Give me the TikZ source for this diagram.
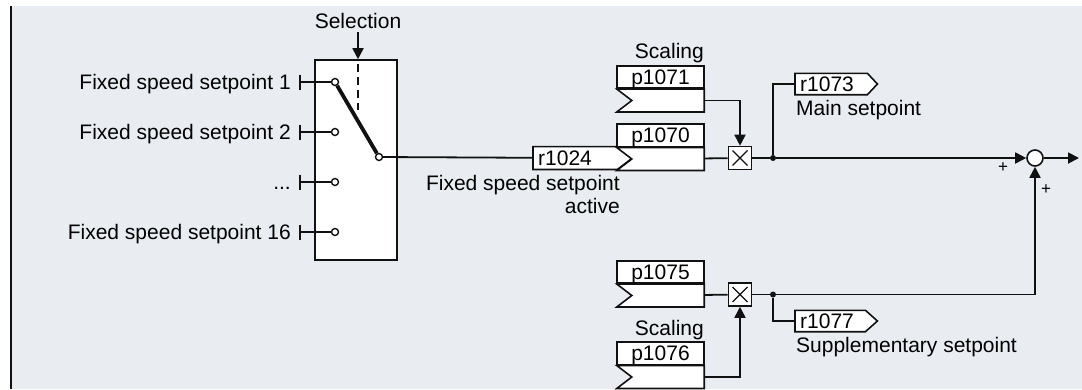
\documentclass[tikz,border=0pt]{standalone}
\usepackage{fontspec}
\setmainfont{Liberation Sans}
\usepackage{tikz}
\usepackage{xcolor}
\usetikzlibrary{arrows.meta,positioning,calc}
\definecolor{panel}{HTML}{E9EDF1}
\definecolor{ink}{HTML}{111111}
\pgfdeclarelayer{back}
\pgfsetlayers{back,main}
\newcommand\moresp{...}
\tikzset{
  sigline/.style={draw=ink,line width=1.8pt},
  sigarr/.style={sigline,-{Triangle[length=11pt,width=11pt]}},
  lbl/.style={inner sep=0pt,font=\fontsize{21}{23}\selectfont},
  plus/.style={inner sep=0pt,font=\fontsize{17}{19}\selectfont},
  selbox/.style={draw=ink,fill=white,line width=1.6pt,
                 minimum width=82pt,minimum height=200pt,inner sep=0pt},
  parbox/.style={draw=ink,fill=white,line width=1.6pt,
                 minimum width=87pt,minimum height=22.5pt,inner sep=0pt,
                 text depth=0pt,font=\fontsize{21}{23}\selectfont},
  parlow/.style={minimum width=87pt,minimum height=22.5pt,inner sep=0pt},
  sigbox/.style={anchor=west,minimum height=21pt,inner ysep=0pt,inner xsep=5pt,
                 align=left,text depth=0pt,font=\fontsize{21}{23}\selectfont},
  outline/.style={draw=ink,fill=white,line width=1.6pt,line join=miter},
  mulbox/.style={draw=ink,fill=white,line width=1.6pt,minimum size=23pt,inner sep=0pt,
                 path picture={\draw[line width=1.2pt]
                   ([shift={(4pt,-4pt)}]path picture bounding box.north west) --
                   ([shift={(-4pt,4pt)}]path picture bounding box.south east)
                   ([shift={(-4pt,-4pt)}]path picture bounding box.north east) --
                   ([shift={(4pt,4pt)}]path picture bounding box.south west);}},
  pinc/.style={circle,draw=ink,fill=white,line width=1.4pt,minimum size=7pt,inner sep=0pt},
  jdot/.style={circle,fill=ink,minimum size=6pt,inner sep=0pt},
  sumc/.style={circle,draw=ink,fill=white,line width=1.6pt,minimum size=16pt,inner sep=0pt}
}

\begin{document}
\begin{tikzpicture}[x=1pt,y=-1pt]
  \useasboundingbox (0,0) rectangle (1082,389);
  \begin{pgfonlayer}{back}
    \fill[white] (0,0) rectangle (1082,389);
    \fill[panel] (12,6) rectangle (1082,389);
  \end{pgfonlayer}
  \draw[ink,line width=2.4pt] (11,6) -- (11,389);

  % selector
  \node[selbox] (sel) at (356,160) {};
  \node[lbl,anchor=base] (seltxt) at (358,28) {Selection};
  \coordinate (selend) at (358,110);
  \draw[sigarr,shorten <=4pt] (seltxt) -- (seltxt |- sel.north);
  \draw[sigline,dash pattern=on 8pt off 5pt,dash phase=8pt] (sel.north -| seltxt) -- (selend);
  \foreach \k/\txt/\yy in {1/Fixed speed setpoint 1/82,2/Fixed speed setpoint 2/132,
                           3/\moresp/182,4/Fixed speed setpoint 16/232}{
    \node[pinc] (in\k) at (335,\yy) {};
    \coordinate (tk\k) at (300,\yy);
    \draw[sigline] (tk\k) -- (in\k);
    \draw[sigline] ([yshift=7.5pt]tk\k) -- ([yshift=-7.5pt]tk\k);
    \node[lbl,anchor=base east] (lb\k) at (291,\yy+7.5) {\txt};
  }
  \node[pinc] (piv) at (379,157) {};
  \draw[ink,line width=3.8pt] (in1) -- (piv);

  % parameters
  \foreach \nm/\cy in {p1071/77,p1070/135.5,p1075/272,p1076/353.5}{
    \node[parbox] (\nm) at (660.5,\cy) {\nm};
    \node[parlow,below=0pt of \nm] (\nm-in) {};
    \draw[outline] (\nm-in.north west) -- (\nm-in.north east) -- (\nm-in.south east)
      -- (\nm-in.south west) -- ([xshift=15pt]\nm-in.west) -- cycle;
  }
  \node[lbl,anchor=base east] (scl1) at (704,58) {Scaling};
  \node[lbl,anchor=base east] (scl2) at (704,335) {Scaling};

  % signals
  \node[sigbox,text width=74pt,minimum height=22.5pt] (r1024) at (533,158) {r1024};
  \node[sigbox,text width=62pt] (r1073) at (795,84) {r1073};
  \node[sigbox,text width=60pt] (r1077) at (795,321) {r1077};
  \begin{pgfonlayer}{back}
    \foreach \nm/\tip in {r1024/15pt,r1073/10pt,r1077/12pt}
      \draw[outline] (\nm.north west) -- (\nm.north east) -- ([xshift=\tip]\nm.east)
        -- (\nm.south east) -- (\nm.south west) -- cycle;
  \end{pgfonlayer}
  \node[lbl,anchor=base east,align=right] (fsact) at (620,213) {Fixed speed setpoint\\active};
  \node[lbl,anchor=base west] (mainsp) at (796,115) {Main setpoint};
  \node[lbl,anchor=base west] (suppsp) at (796,352) {Supplementary setpoint};

  \node[mulbox] (mul1) at (740,158) {};
  \node[mulbox] (mul2) at (740,294.5) {};
  \node[jdot] (j1) at (773,158) {};
  \node[jdot] (j2) at (773,294.5) {};
  \node[sumc] (sum) at (1035,158) {};
  \coordinate (outend) at (1079,158);
  \node[plus] (pl1) at (1003,168) {+};
  \node[plus] (pl2) at (1046,190) {+};

  \draw[sigline] (piv) -- (r1024);
  \draw[sigline] (p1070-in) -- (mul1);
  \draw[sigarr] (p1071-in) -| (mul1);
  \draw[sigline] (mul1) -- (j1);
  \draw[sigarr] (j1) -- (sum);
  \draw[sigline] (j1) |- (r1073);
  \draw[sigarr] (sum) -- (outend);
  \draw[sigline] (p1075-in) -- (mul2);
  \draw[sigarr] (p1076-in) -| (mul2);
  \draw[sigline] (mul2) -- (j2);
  \draw[sigarr] (j2) -| (sum);
  \draw[sigline] (j2) |- (r1077);
\end{tikzpicture}
\end{document}
